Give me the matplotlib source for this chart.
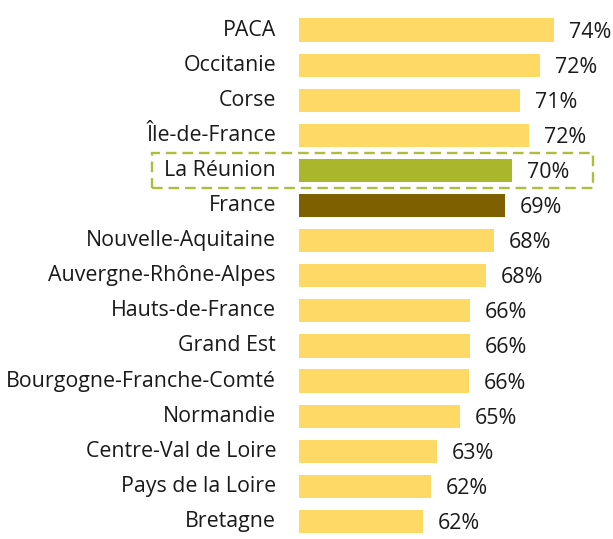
import matplotlib
matplotlib.use("Agg")
import matplotlib.pyplot as plt
from matplotlib.patches import Rectangle
from matplotlib.transforms import blended_transform_factory

regions = ["PACA", "Occitanie", "Corse", "Île-de-France", "La Réunion", "France",
           "Nouvelle-Aquitaine", "Auvergne-Rhône-Alpes", "Hauts-de-France", "Grand Est",
           "Bourgogne-Franche-Comté", "Normandie", "Centre-Val de Loire",
           "Pays de la Loire", "Bretagne"]
values = [74.0, 72.7, 70.8, 71.7, 70.1, 69.4, 68.4, 67.6, 66.1, 66.1, 66.0, 65.2, 63.0, 62.4, 61.7]
value_labels = ["74%", "72%", "71%", "72%", "70%", "69%", "68%", "68%", "66%", "66%",
                "66%", "65%", "63%", "62%", "62%"]

YELLOW = "#FFD966"
GREEN = "#A8B82A"
BROWN = "#7F6000"
colors = [GREEN if r == "La Réunion" else BROWN if r == "France" else YELLOW for r in regions]

plt.rcParams["font.family"] = ["Open Sans", "DejaVu Sans"]

W, H = 613, 539
fig = plt.figure(figsize=(W / 100, H / 100), dpi=100)
ax = fig.add_axes([299 / W, 0, 1 - 299 / W, (539 - 12.5) / H])

y = list(range(len(regions)))
ax.barh(y, values, left=0, height=0.66, color=colors, edgecolor="none")
ax.set_xlim(50, 79.6)
ax.set_ylim(14.5, -0.5)
ax.axis("off")

FS = 15.4
for yi, v, lab, name in zip(y, values, value_labels, regions):
    ax.annotate(lab, (v, yi), xytext=(15, -2), textcoords="offset pixels",
                ha="left", va="center", fontsize=FS, color="#1a1a1a")
    ax.annotate(name, (50, yi), xytext=(-23, 0), textcoords="offset pixels",
                ha="right", va="center", fontsize=FS, color="#1a1a1a",
                annotation_clip=False)

idx = regions.index("La Réunion")
tr = blended_transform_factory(fig.transFigure, ax.transData)
rect = Rectangle((152 / W, idx + 0.5), (593 - 152) / W, -1.0, transform=tr,
                 fill=False, edgecolor="#AEBE3C", linewidth=1.7,
                 linestyle=(0, (4.5, 2.5)), clip_on=False)
fig.add_artist(rect)

fig.savefig("out.png", dpi=100)
